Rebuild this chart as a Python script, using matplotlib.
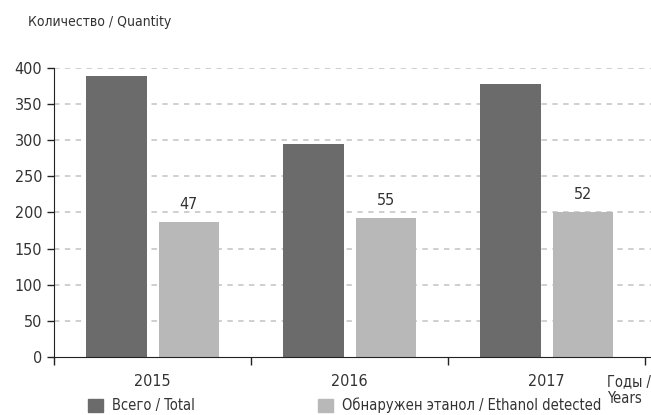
import numpy as np
import matplotlib.pyplot as plt
from matplotlib.patches import Patch

plt.rcParams['font.family'] = ['DejaVu Sans']
plt.rcParams['font.stretch'] = 'condensed'

# Data
years = ['2015', '2016', '2017']
total = [389, 295, 378]
ethanol = [187, 192, 201]
ethanol_pct = ['47', '55', '52']

dark = '#6b6b6b'
light = '#b8b8b8'
txt = '#333333'

fig = plt.figure(figsize=(6.51, 4.15), dpi=100)
ax = fig.add_axes([54 / 651, 0.14, 597 / 651, 0.696])

x = np.arange(len(years))
w = 0.305
off = 0.183
ax.bar(x - off, total, w, color=dark, zorder=2)
ax.bar(x + off, ethanol, w, color=light, zorder=2)
for xi, v, lab in zip(x, ethanol, ethanol_pct):
    ax.text(xi + off, v + 14, lab, ha='center', va='bottom', fontsize=11.5, color=txt)

ax.set_xlim(-0.5, 2.53)
ax.set_ylim(0, 400)
ax.set_yticks(np.arange(0, 401, 50))
ax.yaxis.grid(True, color='#cccccc', linestyle=(0, (3, 3)), linewidth=1.3, zorder=0)
ax.set_axisbelow(True)

ax.set_xticks([-0.5, 0.5, 1.5, 2.5])
ax.set_xticklabels([])
ax.set_xticks(x, minor=True)
ax.set_xticklabels(years, minor=True)
ax.tick_params(axis='x', which='minor', length=0, pad=12, labelsize=11.5, labelcolor=txt)
ax.tick_params(axis='x', which='major', direction='out', length=6, width=1, color='#222222')
ax.tick_params(axis='y', length=5, width=1, color='#222222', labelsize=11.5, labelcolor=txt)
ax.yaxis.get_gridlines()[0].set_visible(False)

for s in ['top', 'right']:
    ax.spines[s].set_visible(False)
ax.spines['left'].set_color('#222222')
ax.spines['bottom'].set_color('#222222')

fig.text(0.043, 0.947, 'Количество / Quantity', fontsize=10, color=txt, ha='left', va='center')
fig.text(0.932, 0.06, 'Годы /\nYears', fontsize=10.5, color=txt, ha='left', va='center', linespacing=1.2)

leg_labels = ['Всего / Total', 'Обнаружен этанол / Ethanol detected']
leg_colors = [dark, light]
leg_x = [88 / 651, 318 / 651]
for lab, col, lx in zip(leg_labels, leg_colors, leg_x):
    fig.legend(handles=[Patch(color=col, label=lab)], loc='lower left',
               bbox_to_anchor=(lx, 0.004), frameon=False, fontsize=10.5,
               handlelength=1.05, handleheight=1.05, handletextpad=0.6,
               borderpad=0, borderaxespad=0, labelcolor=txt)

fig.savefig('out.png', dpi=100)
